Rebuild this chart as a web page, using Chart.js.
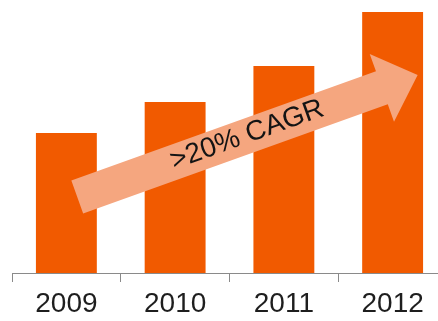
<!DOCTYPE html>
<html>
<head>
<meta charset="utf-8">
<script src="https://cdn.jsdelivr.net/npm/chart.js@4.4.1/dist/chart.umd.min.js"></script>
<style>
  html, body { margin: 0; padding: 0; background: #fff; overflow: hidden; }
  #wrap { width: 450px; height: 321px; }
</style>
</head>
<body>
<div id="wrap"><canvas id="chart"></canvas></div>
<script>
// dados
const years = ['2009', '2010', '2011', '2012'];
const revenue = [140, 171, 207, 261];
const arrowLabel = '>20% CAGR';

// seta de tendência (em unidades dos eixos)
const arrow = { fromX: 0.1, fromY: 76, toX: 3.23, toY: 198, shaft: 35, headW: 72, headL: 38 };

const cagrArrow = {
    id: 'cagrArrow',
    afterDatasetsDraw(chart) {
        const { ctx, scales } = chart;
        const x1 = scales.x.getPixelForValue(arrow.fromX);
        const y1 = scales.y.getPixelForValue(arrow.fromY);
        const x2 = scales.x.getPixelForValue(arrow.toX);
        const y2 = scales.y.getPixelForValue(arrow.toY);
        const len = Math.hypot(x2 - x1, y2 - y1);
        const ang = Math.atan2(y2 - y1, x2 - x1);

        ctx.save();
        ctx.translate(x1, y1);
        ctx.rotate(ang);
        ctx.fillStyle = '#f5a67f';
        ctx.beginPath();
        ctx.moveTo(0, -arrow.shaft / 2);
        ctx.lineTo(len - arrow.headL, -arrow.shaft / 2);
        ctx.lineTo(len - arrow.headL, -arrow.headW / 2);
        ctx.lineTo(len, 0);
        ctx.lineTo(len - arrow.headL, arrow.headW / 2);
        ctx.lineTo(len - arrow.headL, arrow.shaft / 2);
        ctx.lineTo(0, arrow.shaft / 2);
        ctx.closePath();
        ctx.fill();

        ctx.fillStyle = '#141414';
        ctx.font = '28px "Liberation Sans", Arial, sans-serif';
        ctx.textAlign = 'center';
        ctx.textBaseline = 'middle';
        ctx.fillText(arrowLabel, len * 0.5, -1);
        ctx.restore();
    }
};

new Chart(document.getElementById('chart'), {
    type: 'bar',
    data: {
        labels: years,
        datasets: [{
            data: revenue,
            backgroundColor: '#f15a00',
            borderWidth: 0,
            categoryPercentage: 1,
            barPercentage: 0.56
        }]
    },
    options: {
        responsive: true,
        maintainAspectRatio: false,
        animation: false,
        layout: { padding: { left: 12, right: 3, top: 0, bottom: 0 } },
        plugins: { legend: { display: false }, tooltip: { enabled: false } },
        scales: {
            x: {
                offset: true,
                grid: {
                    offset: true,
                    drawOnChartArea: false,
                    drawTicks: true,
                    tickLength: 9,
                    color: '#8a8a8a'
                },
                border: { color: '#8a8a8a', width: 1 },
                ticks: {
                    color: '#1e1e1e',
                    padding: 5,
                    font: { size: 28, family: '"Liberation Sans", Arial, sans-serif' }
                },
                afterFit: s => { s.height = 48; }
            },
            y: {
                display: false,
                min: 0,
                max: 273
            }
        }
    },
    plugins: [cagrArrow]
});
</script>
</body>
</html>
